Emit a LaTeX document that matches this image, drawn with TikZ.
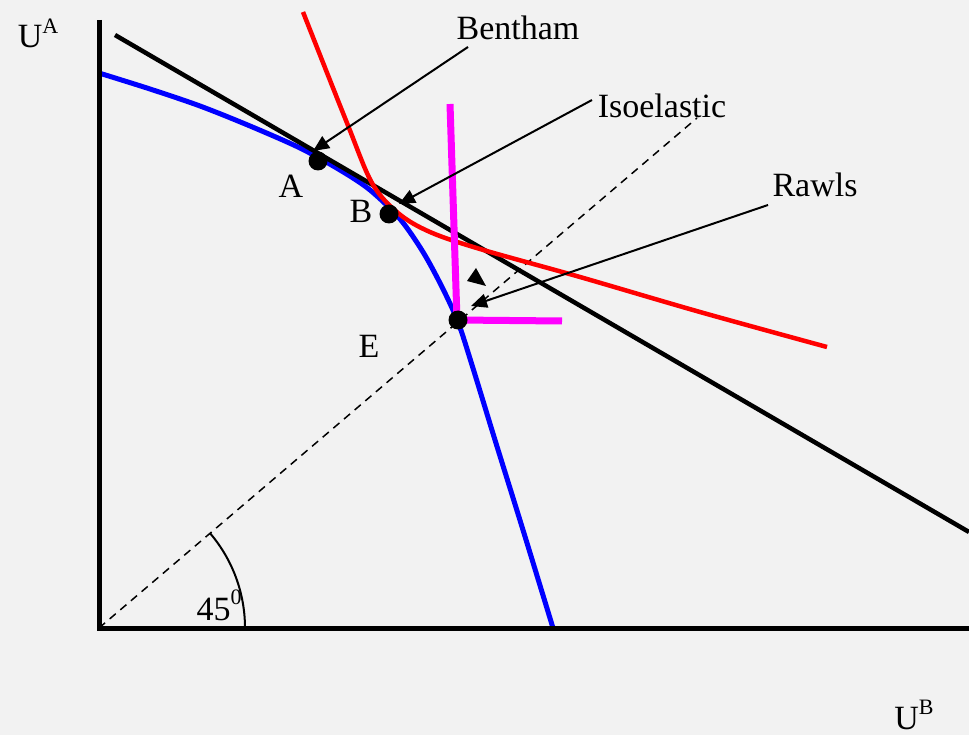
\documentclass[tikz,border=0pt]{standalone}
\usepackage{fontspec}
\setmainfont{Liberation Serif}
\usetikzlibrary{arrows.meta}
\definecolor{bg}{RGB}{242,242,242}
\definecolor{pblue}{RGB}{0,0,255}
\definecolor{pred}{RGB}{255,0,0}
\definecolor{pmag}{RGB}{255,0,255}
\begin{document}
\begin{tikzpicture}[x=1pt,y=-1pt,
  lbl/.style={anchor=base,inner sep=0pt,font=\fontsize{34}{40}\selectfont},
  axisline/.style={line width=5pt,line join=miter},
  tangent/.style={line width=4.5pt},
  frontier/.style={pblue,line width=5pt},
  isocurve/.style={pred,line width=4.5pt},
  rawlscurve/.style={pmag,line width=7pt},
  diag/.style={line width=1.5pt,dash pattern=on 8pt off 6pt},
  pointer/.style={line width=2pt,-{Triangle[length=16pt,width=14pt]}},
  dot/.style={circle,fill=black,minimum size=19pt,inner sep=0pt}
]
\fill[bg] (0,0) rectangle (969,735);
\useasboundingbox (0,0) rectangle (969,735);

% 45 degree line
\coordinate (O) at (99,628);
\coordinate (D) at (697,118);
\draw[diag] (O) -- (D);

% utility frontier
\draw[frontier] plot[smooth,tension=0.5] coordinates {(99,73) (150,89) (200,106) (250,126) (300,148) (340,170) (370,190) (400,219) (423,252) (442,287) (458,322) (472,365) (495,440) (523,530) (553,628)};

% Bentham tangent
\coordinate (T1) at (115,35);
\coordinate (T2) at (969,532);
\draw[tangent] (T1) -- (T2);

% isoelastic indifference curve
\draw[isocurve] plot[smooth,tension=0.55] coordinates {(303,12) (347,123) (372,183) (398,213) (430,232) (480,249) (580,277) (700,312) (827,347)};

% Rawls L
\coordinate (R1) at (450,104);
\coordinate (R2) at (457,320);
\coordinate (R3) at (562,321);
\draw[rawlscurve] (R1) -- (R2) -- (R3);

% axes
\draw[axisline] (99,20) -- (O) -- (969,628);

% angle arc
\draw[line width=2pt] (245,628) arc[start angle=0,end angle=-40.5,radius=146];

% points
\node[dot] (A) at (318,161) {};
\node[dot] (B) at (389,214) {};
\node[dot] (E) at (458,320) {};

% labels
\node[lbl] (lA) at (291,198) {A};
\node[lbl] (lB) at (361,223) {B};
\node[lbl] (lE) at (369,357) {E};
\node[lbl] (ua) at (38,48) {U\raisebox{0.42em}{\fontsize{22}{24}\selectfont A}};
\node[lbl] (ub) at (914,729) {U\raisebox{0.42em}{\fontsize{22}{24}\selectfont B}};
\node[lbl] (deg) at (219,620) {45\raisebox{0.45em}{\fontsize{22}{24}\selectfont 0}};
\node[lbl] (bentham) at (518,40) {Bentham};
\node[lbl] (isoel) at (662,118) {Isoelastic};
\node[lbl] (rawls) at (815,197) {Rawls};

% pointers
\coordinate (bs) at (468,47);
\coordinate (be) at (313,151);
\coordinate (is) at (592,100);
\coordinate (ie) at (399,204);
\coordinate (rs) at (768,205);
\coordinate (re) at (471,306);
\draw[pointer] (bs) -- (be);
\draw[pointer] (is) -- (ie);
\draw[pointer] (rs) -- (re);

% stray arrowhead
\fill (476,268) -- (467,281) -- (486,286) -- cycle;
\end{tikzpicture}
\end{document}
